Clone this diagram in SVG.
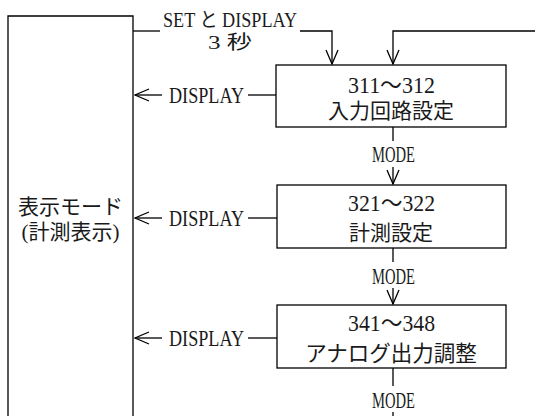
<svg xmlns="http://www.w3.org/2000/svg" width="535" height="416" viewBox="0 0 535 416">
<style>
.ln{fill:none;stroke:#000;stroke-width:1.3}
.bx{fill:#fff;stroke:#000;stroke-width:1.3}
text{font-family:"Liberation Serif","Noto Sans CJK JP",serif;font-size:21px;fill:#1a1a1a}
.l{font-size:23px}
.c{text-anchor:middle}
</style>
<defs>
<marker id="ah" viewBox="0 0 16 14" refX="15" refY="7" markerWidth="16" markerHeight="14" markerUnits="userSpaceOnUse" orient="auto">
<path d="M1,1 L15,7 L1,13" fill="none" stroke="#000" stroke-width="1.3"/>
</marker>
</defs>
<g id="connectors">
<path class="ln" d="M133,31 H160"/>
<path class="ln" d="M300,31 H332 V64" marker-end="url(#ah)"/>
<path class="ln" d="M535,31 H393 V64" marker-end="url(#ah)"/>
<path class="ln" d="M393,127 V141"/>
<path class="ln" d="M393,167 V184" marker-end="url(#ah)"/>
<path class="ln" d="M393,248 V262"/>
<path class="ln" d="M393,288 V304" marker-end="url(#ah)"/>
<path class="ln" d="M393,368 V386"/>
<path class="ln" d="M393,412 V416"/>
<path class="ln" d="M162,95 H135" marker-end="url(#ah)"/>
<path class="ln" d="M248,95 H276"/>
<path class="ln" d="M162,218 H135" marker-end="url(#ah)"/>
<path class="ln" d="M248,218 H277"/>
<path class="ln" d="M162,338 H135" marker-end="url(#ah)"/>
<path class="ln" d="M248,338 H277"/>
<text x="163" y="27" style="font-size:20px" textLength="134" lengthAdjust="spacingAndGlyphs">SET と DISPLAY</text>
<text x="208" y="49" style="font-size:19px" textLength="44" lengthAdjust="spacingAndGlyphs">3 秒</text>
<text class="l" x="169" y="103" textLength="75" lengthAdjust="spacingAndGlyphs">DISPLAY</text>
<text class="l" x="169" y="226" textLength="75" lengthAdjust="spacingAndGlyphs">DISPLAY</text>
<text class="l" x="169" y="346" textLength="75" lengthAdjust="spacingAndGlyphs">DISPLAY</text>
<text class="l" x="372" y="162" textLength="43" lengthAdjust="spacingAndGlyphs">MODE</text>
<text class="l" x="372" y="284" textLength="43" lengthAdjust="spacingAndGlyphs">MODE</text>
<text class="l" x="372" y="408" textLength="43" lengthAdjust="spacingAndGlyphs">MODE</text>
</g>
<g id="display-mode">
<path class="ln" d="M8,417 V16 H133 V417"/>
<text class="c" x="70.5" y="214">表示モード</text>
<text class="c" x="70.5" y="239">(計測表示)</text>
</g>
<g id="node-311">
<rect class="bx" x="276" y="65" width="230" height="62"/>
<text class="l" x="348" y="93" textLength="87" lengthAdjust="spacingAndGlyphs">311～312</text>
<text class="c" x="391" y="118">入力回路設定</text>
</g>
<g id="node-321">
<rect class="bx" x="277" y="185" width="229" height="63"/>
<text class="l" x="348" y="211" textLength="87" lengthAdjust="spacingAndGlyphs">321～322</text>
<text class="c" x="391" y="240">計測設定</text>
</g>
<g id="node-341">
<rect class="bx" x="277" y="305" width="229" height="63"/>
<text class="l" x="348" y="331" textLength="87" lengthAdjust="spacingAndGlyphs">341～348</text>
<text class="c" x="391" y="361" style="font-size:21.5px">アナログ出力調整</text>
</g>
</svg>
